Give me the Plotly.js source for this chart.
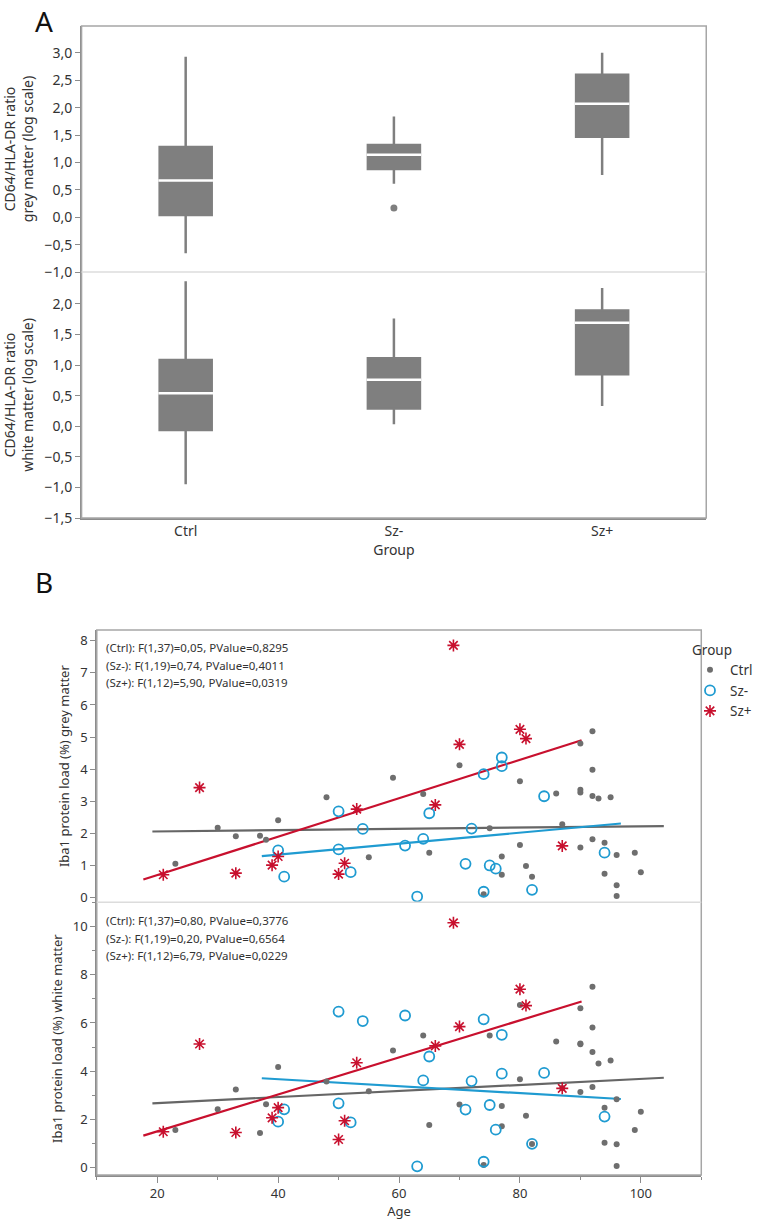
<!DOCTYPE html>
<html>
<head>
<meta charset="utf-8">
<script src="https://cdn.plot.ly/plotly-3.0.1.min.js"></script>
<style>html,body{margin:0;padding:0;background:#fff;}#chart{width:758px;height:1222px;}</style>
</head>
<body>
<div id="chart"></div>
<script>
// ---------- Panel A: box statistics (log-scale CD64/HLA-DR ratio) ----------
const groups = ['Ctrl', 'Sz-', 'Sz+'];

const greyQ1 = [0.04, 0.88, 1.47];
const greyMedian = [0.67, 1.14, 2.07];
const greyQ3 = [1.28, 1.32, 2.60];
const greyLowerWhisker = [-0.66, 0.61, 0.77];
const greyUpperWhisker = [2.93, 1.84, 3.00];
const greyOutlierGroup = ['Sz-'];
const greyOutlierValue = [0.17];

const whiteQ1 = [-0.06, 0.29, 0.85];
const whiteMedian = [0.54, 0.76, 1.69];
const whiteQ3 = [1.08, 1.11, 1.89];
const whiteLowerWhisker = [-0.95, 0.03, 0.33];
const whiteUpperWhisker = [2.37, 1.76, 2.26];

const greyTicksA = [-1.0, -0.5, 0.0, 0.5, 1.0, 1.5, 2.0, 2.5, 3.0];
const whiteTicksA = [-1.5, -1.0, -0.5, 0.0, 0.5, 1.0, 1.5, 2.0];

// ---------- Panel B: Iba1 protein load vs age ----------
const ctrlAge = [23,30,33,37,38,40,48,55,59,64,65,70,74,75,77,77,80,80,81,82,86,87,90,90,90,90,92,92,92,92,93,94,94,95,96,96,96,99,100];
const ctrlGrey = [1.04,2.17,1.90,1.92,1.79,2.40,3.12,1.25,3.73,3.22,1.39,4.12,0.09,2.15,1.27,0.70,3.62,1.63,0.97,0.64,3.24,2.28,4.80,3.35,3.27,1.55,5.18,3.98,3.16,1.81,3.08,1.70,0.73,3.12,1.32,0.37,0.04,1.39,0.78];
const ctrlWhite = [1.56,2.42,3.24,1.44,2.63,4.18,3.57,3.17,4.86,5.48,1.77,2.62,0.11,5.48,2.56,1.72,6.74,3.67,2.16,0.98,5.23,3.30,6.61,5.15,3.14,5.12,7.50,5.81,4.80,3.35,4.32,2.49,1.04,4.44,2.84,0.97,0.07,1.56,2.32];

const szmAge = [40,41,50,50,52,54,61,63,64,65,71,72,74,74,75,76,77,77,82,84,94];
const szmGrey = [1.46,0.64,2.68,1.49,0.78,2.13,1.61,0.02,1.82,2.62,1.04,2.14,3.84,0.17,0.99,0.89,4.36,4.09,0.23,3.15,1.39];
const szmWhite = [1.91,2.42,6.47,2.67,1.88,6.08,6.31,0.06,3.62,4.61,2.41,3.59,6.15,0.25,2.60,1.58,5.51,3.90,0.99,3.93,2.12];

const szpAge = [21,27,33,39,40,50,51,53,66,69,70,80,81,87];
const szpGrey = [0.70,3.42,0.75,1.00,1.27,0.72,1.06,2.75,2.88,7.86,4.77,5.24,4.95,1.60];
const szpWhite = [1.49,5.13,1.46,2.07,2.49,1.17,1.95,4.35,5.05,10.15,5.85,7.40,6.72,3.29];

// fitted lines (end points)
const fitAgeCtrl = [19.2, 103.8];
const fitGreyCtrl = [2.05, 2.22];
const fitWhiteCtrl = [2.67, 3.73];
const fitAgeSzm = [37.3, 96.7];
const fitGreySzm = [1.28, 2.30];
const fitWhiteSzm = [3.71, 2.85];
const fitAgeSzp = [17.7, 90.2];
const fitGreySzp = [0.55, 4.90];
const fitWhiteSzp = [1.33, 6.89];

const statsGrey = ['(Ctrl): F(1,37)=0,05, PValue=0,8295', '(Sz-): F(1,19)=0,74, PValue=0,4011', '(Sz+): F(1,12)=5,90, PValue=0,0319'];
const statsWhite = ['(Ctrl): F(1,37)=0,80, PValue=0,3776', '(Sz-): F(1,19)=0,20, PValue=0,6564', '(Sz+): F(1,12)=6,79, PValue=0,0229'];

// ---------- layout geometry ----------
const W = 758, H = 1222;
const fx = p => p / W;
const fy = p => 1 - p / H;
const A = {l: 82, r: 710, t: 26, mid: 272, b: 518};
const B = {l: 97.3, r: 705, t: 630, mid: 902.3, b: 1175};

const boxGrey = '#7f7f7f';
const colCtrl = '#6e6e6e', colSzm = '#1f9bd1', colSzp = '#c8102e';
const boxWidth = 0.25;
const xIdx = groups.map((g, i) => i);

function medianSegments(med) {
  const xs = [], ys = [];
  med.forEach((m, i) => { xs.push(i - boxWidth / 2 - 0.006, i + boxWidth / 2 + 0.006, null); ys.push(m, m, null); });
  return {xs, ys};
}
const mg = medianSegments(greyMedian), mw = medianSegments(whiteMedian);

const traces = [
  {type: 'box', x: xIdx, q1: greyQ1, median: greyMedian, q3: greyQ3, lowerfence: greyLowerWhisker, upperfence: greyUpperWhisker,
   width: boxWidth, whiskerwidth: 0, fillcolor: boxGrey, line: {color: boxGrey, width: 2.5}, boxpoints: false,
   xaxis: 'x', yaxis: 'y', showlegend: false, hoverinfo: 'skip'},
  {type: 'scatter', mode: 'lines', x: mg.xs, y: mg.ys, line: {color: '#ffffff', width: 2.5}, xaxis: 'x', yaxis: 'y', showlegend: false, hoverinfo: 'skip'},
  {type: 'scatter', mode: 'markers', x: greyOutlierGroup.map(g => groups.indexOf(g)), y: greyOutlierValue,
   marker: {color: boxGrey, size: 7}, xaxis: 'x', yaxis: 'y', showlegend: false},
  {type: 'box', x: xIdx, q1: whiteQ1, median: whiteMedian, q3: whiteQ3, lowerfence: whiteLowerWhisker, upperfence: whiteUpperWhisker,
   width: boxWidth, whiskerwidth: 0, fillcolor: boxGrey, line: {color: boxGrey, width: 2.5}, boxpoints: false,
   xaxis: 'x', yaxis: 'y2', showlegend: false, hoverinfo: 'skip'},
  {type: 'scatter', mode: 'lines', x: mw.xs, y: mw.ys, line: {color: '#ffffff', width: 2.5}, xaxis: 'x', yaxis: 'y2', showlegend: false, hoverinfo: 'skip'},

  // Panel B fits (grey matter)
  {type: 'scatter', mode: 'lines', x: fitAgeCtrl, y: fitGreyCtrl, line: {color: '#666666', width: 2.2}, xaxis: 'x2', yaxis: 'y3', showlegend: false},
  {type: 'scatter', mode: 'lines', x: fitAgeSzm, y: fitGreySzm, line: {color: colSzm, width: 2.2}, xaxis: 'x2', yaxis: 'y3', showlegend: false},
  {type: 'scatter', mode: 'lines', x: fitAgeSzp, y: fitGreySzp, line: {color: colSzp, width: 2.2}, xaxis: 'x2', yaxis: 'y3', showlegend: false},
  // Panel B fits (white matter)
  {type: 'scatter', mode: 'lines', x: fitAgeCtrl, y: fitWhiteCtrl, line: {color: '#666666', width: 2.2}, xaxis: 'x2', yaxis: 'y4', showlegend: false},
  {type: 'scatter', mode: 'lines', x: fitAgeSzm, y: fitWhiteSzm, line: {color: colSzm, width: 2.2}, xaxis: 'x2', yaxis: 'y4', showlegend: false},
  {type: 'scatter', mode: 'lines', x: fitAgeSzp, y: fitWhiteSzp, line: {color: colSzp, width: 2.2}, xaxis: 'x2', yaxis: 'y4', showlegend: false},

  // Panel B points
  {type: 'scatter', mode: 'markers', name: 'Ctrl', legendgroup: 'Ctrl', x: ctrlAge, y: ctrlGrey, marker: {symbol: 'circle', size: 6, color: colCtrl}, xaxis: 'x2', yaxis: 'y3'},
  {type: 'scatter', mode: 'markers', name: 'Sz-', legendgroup: 'Sz-', x: szmAge, y: szmGrey, marker: {symbol: 'circle-open', size: 10, color: colSzm, line: {width: 1.8}}, xaxis: 'x2', yaxis: 'y3'},
  {type: 'scatter', mode: 'markers', name: 'Sz+', legendgroup: 'Sz+', x: szpAge, y: szpGrey, marker: {symbol: 'asterisk-open', size: 10, color: colSzp, line: {width: 1.6, color: colSzp}}, xaxis: 'x2', yaxis: 'y3'},
  {type: 'scatter', mode: 'markers', name: 'Ctrl', legendgroup: 'Ctrl', showlegend: false, x: ctrlAge, y: ctrlWhite, marker: {symbol: 'circle', size: 6, color: colCtrl}, xaxis: 'x2', yaxis: 'y4'},
  {type: 'scatter', mode: 'markers', name: 'Sz-', legendgroup: 'Sz-', showlegend: false, x: szmAge, y: szmWhite, marker: {symbol: 'circle-open', size: 10, color: colSzm, line: {width: 1.8}}, xaxis: 'x2', yaxis: 'y4'},
  {type: 'scatter', mode: 'markers', name: 'Sz+', legendgroup: 'Sz+', showlegend: false, x: szpAge, y: szpWhite, marker: {symbol: 'asterisk-open', size: 10, color: colSzp, line: {width: 1.6, color: colSzp}}, xaxis: 'x2', yaxis: 'y4'}
];

const axisCommon = {showgrid: false, zeroline: false, showline: true, linecolor: '#8c8c8c', linewidth: 1.5,
  ticks: 'outside', ticklen: 5, tickwidth: 1, tickcolor: '#8c8c8c', tickfont: {size: 14, color: '#333'}, automargin: false};

const annotations = [
  {text: 'A', x: fx(44), y: fy(21), xref: 'paper', yref: 'paper', xanchor: 'center', yanchor: 'middle', showarrow: false, font: {size: 28, color: '#111'}},
  {text: 'B', x: fx(44), y: fy(582), xref: 'paper', yref: 'paper', xanchor: 'center', yanchor: 'middle', showarrow: false, font: {size: 28, color: '#111'}}
];
const statsY1 = [647.3, 665, 682.7], statsY2 = [920, 938.3, 955.7];
statsGrey.forEach((t, i) => annotations.push({text: t, x: fx(105), y: fy(statsY1[i]), xref: 'paper', yref: 'paper', xanchor: 'left', yanchor: 'middle', showarrow: false, font: {size: 11.5, color: '#333'}}));
statsWhite.forEach((t, i) => annotations.push({text: t, x: fx(105), y: fy(statsY2[i]), xref: 'paper', yref: 'paper', xanchor: 'left', yanchor: 'middle', showarrow: false, font: {size: 11.5, color: '#333'}}));

const shapes = [
  {type: 'rect', xref: 'paper', yref: 'paper', x0: fx(A.l), x1: fx(A.r), y0: fy(A.b), y1: fy(A.t), line: {color: '#a6a6a6', width: 1.5}},
  {type: 'line', xref: 'paper', yref: 'paper', x0: fx(A.l), x1: fx(A.r), y0: fy(A.mid), y1: fy(A.mid), line: {color: '#dcdcdc', width: 1.5}},
  {type: 'rect', xref: 'paper', yref: 'paper', x0: fx(B.l), x1: fx(B.r), y0: fy(B.b), y1: fy(B.t), line: {color: '#a6a6a6', width: 1.5}},
  {type: 'line', xref: 'paper', yref: 'paper', x0: fx(B.l), x1: fx(B.r), y0: fy(B.mid), y1: fy(B.mid), line: {color: '#dcdcdc', width: 1.5}}
];

const layout = {
  width: W, height: H,
  margin: {l: 0, r: 0, t: 0, b: 0},
  paper_bgcolor: '#ffffff', plot_bgcolor: '#ffffff',
  font: {family: '"Noto Sans", "Open Sans", sans-serif', color: '#333'},
  separators: ', ',
  showlegend: true,
  legend: {x: fx(694), y: fy(637), xanchor: 'left', yanchor: 'top', title: {text: 'Group', font: {size: 13.5, color: '#333'}},
           font: {size: 13.5, color: '#333'}, itemwidth: 30, tracegroupgap: 0, bgcolor: 'rgba(0,0,0,0)'},
  xaxis: Object.assign({}, axisCommon, {domain: [fx(A.l), fx(A.r)], anchor: 'y2', range: [-0.5, 2.5], tickvals: xIdx, ticktext: groups, ticks: '',
           title: {text: 'Group', font: {size: 14, color: '#333'}, standoff: 4}}),
  yaxis: Object.assign({}, axisCommon, {domain: [fy(A.mid), fy(A.t)], anchor: 'x', range: [-1, 3.49], tickvals: greyTicksA, tickformat: '.1f',
           title: {text: 'CD64/HLA-DR ratio<br>grey matter (log scale)', font: {size: 14, color: '#333'}, standoff: 8}}),
  yaxis2: Object.assign({}, axisCommon, {domain: [fy(A.b), fy(A.mid)], anchor: 'x', range: [-1.5, 2.52], tickvals: whiteTicksA, tickformat: '.1f',
           title: {text: 'CD64/HLA-DR ratio<br>white matter (log scale)', font: {size: 14, color: '#333'}, standoff: 8}}),
  xaxis2: Object.assign({}, axisCommon, {domain: [fx(B.l), fx(B.r)], anchor: 'y4', range: [10, 110], tick0: 0, dtick: 20, ticklen: 6,
           tickfont: {size: 13, color: '#333'}, minor: {dtick: 10, ticklen: 3, tickcolor: '#8c8c8c', ticks: 'outside'},
           title: {text: 'Age', font: {size: 13, color: '#333'}, standoff: 4}}),
  yaxis3: Object.assign({}, axisCommon, {domain: [fy(B.mid), fy(B.t)], anchor: 'x2', range: [-0.16, 8.34], tick0: 0, dtick: 1,
           tickfont: {size: 13, color: '#333'},
           title: {text: 'Iba1 protein load (%) grey matter', font: {size: 13, color: '#333'}, standoff: 7}}),
  yaxis4: Object.assign({}, axisCommon, {domain: [fy(B.b), fy(B.mid)], anchor: 'x2', range: [-0.30, 11.0], tick0: 0, dtick: 2,
           tickfont: {size: 13, color: '#333'}, minor: {dtick: 1, ticklen: 3, tickcolor: '#8c8c8c', ticks: 'outside'},
           title: {text: 'Iba1 protein load (%) white matter', font: {size: 13, color: '#333'}, standoff: 7}}),
  annotations: annotations,
  shapes: shapes
};

Plotly.newPlot('chart', traces, layout, {displayModeBar: false, staticPlot: true});
</script>
</body>
</html>
